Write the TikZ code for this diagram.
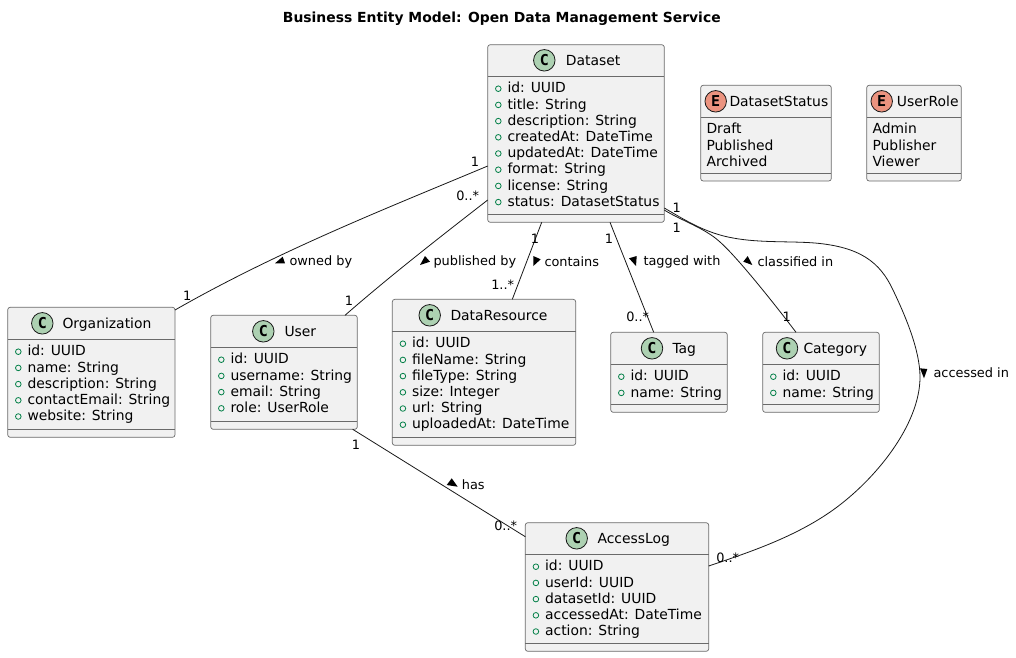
\documentclass[tikz,border=0pt]{standalone}
\usepackage{fontspec}
\setmainfont{DejaVu Sans}
\newfontfamily\glyphfont{DejaVu Sans Mono}[BoldFont={DejaVu Sans Mono Bold}]
\usetikzlibrary{calc}
\definecolor{boxfill}{HTML}{F1F1F1}
\definecolor{ink}{HTML}{181818}
\definecolor{edgegray}{HTML}{6A6A6A}
\definecolor{cfill}{HTML}{ADD1B2}
\definecolor{efill}{HTML}{EB937F}
\definecolor{markgreen}{HTML}{038048}
\tikzset{
  umlbox/.style={draw=edgegray,fill=boxfill,line width=0.7pt,rounded corners=2.5pt,inner sep=0pt,outer sep=0pt,rectangle},
  umlsep/.style={draw=edgegray,line width=0.7pt},
  headtext/.style={anchor=base west,inner sep=0pt,font=\fontsize{13.9}{16}\selectfont,text=black},
  rowtext/.style={anchor=base west,inner sep=0pt,font=\fontsize{13.9}{16}\selectfont,text=black},
  badge/.style={circle,draw=ink,line width=0.8pt,minimum size=21.5pt,inner sep=0pt,font=\glyphfont\bfseries\fontsize{15}{15}\selectfont,text=black},
  marker/.style={circle,draw=markgreen,line width=0.8pt,minimum size=5.6pt,inner sep=0pt},
  conn/.style={draw=ink,line width=0.8pt},
  mult/.style={inner sep=0pt,font=\fontsize{12.9}{15}\selectfont,text=black},
  rellabel/.style={anchor=west,inner sep=0pt,font=\fontsize{12.9}{15}\selectfont,text=black},
  tri/.style={fill=black,draw=none},
}
% \umlclass(name)[l,t,r,b;s1,s2;cx,tx]{letter}{title}{rows}
\def\umlclass(#1)[#2,#3,#4,#5;#6,#7;#8,#9]{%
  \def\bn{#1}\def\bl{#2}\def\bt{#3}\def\br{#4}\def\bb{#5}\def\bsa{#6}\def\bsb{#7}\def\bcx{#8}\def\btx{#9}%
  \umlclassb}
\def\umlclassb#1#2#3{%
  \pgfmathsetmacro\bw{\br-\bl}\pgfmathsetmacro\bh{\bb-\bt}%
  \pgfmathsetmacro\bxc{(\br+\bl)/2}\pgfmathsetmacro\byc{(\bb+\bt)/2}%
  \node[umlbox,minimum width=\bw pt,minimum height=\bh pt] (\bn) at (\bxc,\byc) {};
  \draw[umlsep] (\bn.west |- 0,\bsa) -- (\bn.east |- 0,\bsa);
  \draw[umlsep] (\bn.west |- 0,\bsb) -- (\bn.east |- 0,\bsb);
  \pgfmathsetmacro\bcy{\bsa-16}%
  \pgfmathsetmacro\bty{\bsa-11.3}%
  \if#1E\def\bfc{efill}\else\def\bfc{cfill}\fi
  \node[badge,fill=\bfc] (\bn-badge) at (\bcx,\bcy) {#1};
  \node[headtext] (\bn-title) at (\btx,\bty) {#2};
  \foreach \t [count=\i from 0] in {#3} {
    \pgfmathsetmacro\ry{\bsa+16.6+16.2*\i}%
    \if#1E
      \pgfmathsetmacro\rx{\bl+5.6}%
      \node[rowtext] (\bn-row\i) at (\rx,\ry) {\t};
    \else
      \pgfmathsetmacro\rx{\bl+19.6}\pgfmathsetmacro\mx{\bl+10.6}\pgfmathsetmacro\my{\ry-4.2}%
      \node[marker] (\bn-mark\i) at (\mx,\my) {};
      \node[rowtext] (\bn-row\i) at (\rx,\ry) {\t};
    \fi
  }%
}
\begin{document}
\begin{tikzpicture}[x=1pt,y=-1pt]
\useasboundingbox (0,0) rectangle (1016,657);
\node[inner sep=0pt,font=\bfseries\fontsize{13.9}{16}\selectfont] (title) at (501.8,18.3) {Business Entity Model: Open Data Management Service};

\umlclass(ds)[487.7,44.7,664.3,222.3;76.3,214;544.3,565.7]{C}{Dataset}{id: UUID,title: String,description: String,createdAt: DateTime,updatedAt: DateTime,format: String,license: String,status: DatasetStatus}
\umlclass(dss)[700.7,85.3,831.3,181;117.3,173.3;715.7,729.3]{E}{DatasetStatus}{Draft,Published,Archived}
\umlclass(ur)[866.7,85.3,961.3,181;117.3,173.3;881.7,896.7]{E}{UserRole}{Admin,Publisher,Viewer}
\umlclass(org)[7.7,307.3,175,437.3;339.3,429.3;42.3,62.3]{C}{Organization}{id: UUID,name: String,description: String,contactEmail: String,website: String}
\umlclass(usr)[210.7,315.3,357.3,429.3;347.3,421.3;263.3,284.3]{C}{User}{id: UUID,username: String,email: String,role: UserRole}
\umlclass(dr)[392.3,299.3,575.7,445.3;331.3,437.3;429.7,450.3]{C}{DataResource}{id: UUID,fileName: String,fileType: String,size: Integer,url: String,uploadedAt: DateTime}
\umlclass(tag)[610.7,332.3,727.3,412.3;364.3,404.3;652,672.3]{C}{Tag}{id: UUID,name: String}
\umlclass(cat)[762.7,332.3,879.3,412.3;364.3,404.3;787,803.3]{C}{Category}{id: UUID,name: String}
\umlclass(log)[525.3,522.7,708.7,651.3;554.3,643.3;576.7,597.3]{C}{AccessLog}{id: UUID,userId: UUID,datasetId: UUID,accessedAt: DateTime,action: String}

% connectors
\draw[conn] ($(ds.north west)+(0,121.3)$) .. controls (390,207) and (280,250) .. ($(org.north east)+(0,2.7)$);
\draw[conn] ($(ds.north west)+(0,155.3)$) .. controls (440,237) and (390,276) .. ($(usr.north east)+(-12.3,0)$);
\draw[conn] ($(ds.south west)+(54,0)$) -- ($(dr.north west)+(120,0)$);
\draw[conn] ($(ds.south west)+(122.3,0)$) -- ($(tag.north west)+(43,0)$);
\draw[conn] ($(ds.north east)+(0,165.3)$) .. controls (680,220) and (705,228) .. (720,242) .. controls (735,255) and (770,298) .. ($(cat.north west)+(33.3,0)$);
\draw[conn] ($(ds.north east)+(0,163.3)$) .. controls (685,220) and (705,233) .. (733,238) .. controls (760,243) and (790,241) .. (815,243) .. controls (860,247) and (880,262) .. (893,290) .. controls (905,315) and (920,350) .. (920,377) .. controls (920,425) and (875,480) .. (833,510) .. controls (795,537) and (750,552) .. ($(log.north east)+(0,43.3)$);
\draw[conn] ($(usr.south east)+(-4.6,0)$) -- ($(log.north west)+(0,14)$);

% relation labels and direction triangles
\node[rellabel] (l1) at (289.3,261.7) {owned by};
\fill[tri] (282.7,256.7) -- (275,263.3) -- (285,263.3) -- cycle;
\node[rellabel] (l2) at (433.3,261.7) {published by};
\fill[tri] (425,256) -- (420,265) -- (430,261.7) -- cycle;
\node[rellabel] (l3) at (544.3,261.7) {contains};
\fill[tri] (533.3,256) -- (540.7,259.3) -- (533.3,266) -- cycle;
\node[rellabel] (l4) at (643.3,261.7) {tagged with};
\fill[tri] (629,258.3) -- (636.7,256) -- (636,266) -- cycle;
\node[rellabel] (l5) at (757.3,261.7) {classified in};
\fill[tri] (743.3,261.7) -- (747.7,256) -- (752.3,265) -- cycle;
\node[rellabel] (l6) at (933.3,372.7) {accessed in};
\fill[tri] (920,368.3) -- (927.3,369) -- (924,378.3) -- cycle;
\node[rellabel] (l7) at (461.7,484.3) {has};
\fill[tri] (446.7,485) -- (451.7,478.3) -- (457.7,486.7) -- cycle;

% multiplicities
\node[mult] (m1) at (475,161.7) {1};
\node[mult] (m2) at (467.7,196) {0..*};
\node[mult] (m3) at (187.3,296) {1};
\node[mult] (m4) at (349,300.7) {1};
\node[mult] (m5) at (356,444.3) {1};
\node[mult] (m6) at (535,238.7) {1};
\node[mult] (m7) at (502.7,284.3) {1..*};
\node[mult] (m8) at (609,238.7) {1};
\node[mult] (m9) at (637.7,316.3) {0..*};
\node[mult] (m10) at (676.7,207.3) {1};
\node[mult] (m11) at (676.7,227.7) {1};
\node[mult] (m12) at (786.7,316.3) {1};
\node[mult] (m13) at (505.7,525.3) {0..*};
\node[mult] (m14) at (727.7,557.3) {0..*};
\end{tikzpicture}
\end{document}
